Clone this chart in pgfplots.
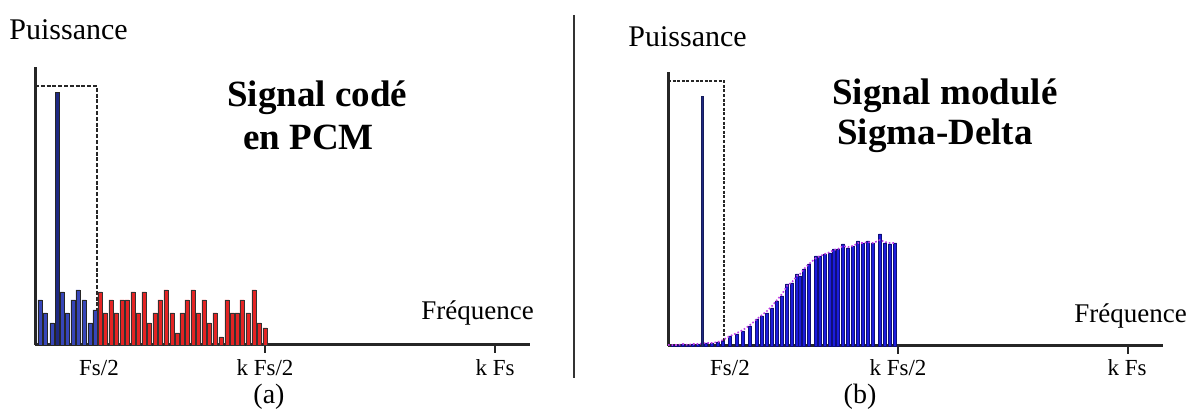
\documentclass[border=0pt]{standalone}
\usepackage{pgfplots}
\pgfplotsset{compat=1.18}
\usepackage{fontspec}
\setmainfont{Liberation Serif}
\definecolor{lblue}{RGB}{55,70,185}
\definecolor{lnavy}{RGB}{30,40,130}
\definecolor{lred}{RGB}{228,35,35}
\definecolor{rblue}{RGB}{28,28,220}
\definecolor{rmag}{RGB}{190,60,230}
\begin{document}
\begin{tikzpicture}
\useasboundingbox (0,0) rectangle (593.5pt,-205pt);
\pgfplotsset{panel/.style={scale only axis, width=247.5pt, xmin=0, xmax=495, ymin=0,
  axis x line=bottom, axis y line=left, axis line style={-, line width=1.5pt, black!85},
  ytick=\empty, xtick={230,460}, xticklabels={}, tick align=outside,
  major tick length=4pt, tick style={line width=1.2pt, black!85}, clip=false}}
% ---------------- panel (a)
\begin{axis}[panel, at={(17.5pt,-172.5pt)}, anchor=south west, height=139pt, ymax=278]
\addplot[black!85, line width=0.9pt, dash pattern=on 2pt off 0.9pt] coordinates {(0,259) (62,259) (62,0)};
\addplot[ybar, bar width=2.05pt, bar shift=0pt, fill=lblue, draw=black!85, line width=0.45pt] coordinates {
(5,45) (10,32) (17,22) (27,53) (32,32) (38,45) (43,55) (49,45) (55,22) (60,35)};
\addplot[ybar, bar width=2.05pt, bar shift=0pt, fill=lred, draw=black!80, line width=0.45pt] coordinates {
(65,53) (70,32) (76,45) (81,32) (87,45) (92,45) (98,53) (103,32) (109,53) (114,22)
(120,32) (125,45) (131,55) (137,32) (142,12) (147,32) (152,45) (158,55) (163,32) (169,45)
(174,22) (180,32) (186,8) (192,45) (197,32) (202,32) (207,45) (213,32) (219,55) (224,22) (230,17)};
\addplot[ybar, bar width=2pt, bar shift=0pt, fill=lnavy, draw=black!85, line width=0.45pt] coordinates {(22,253)};
\end{axis}
% ---------------- panel (b)
\begin{axis}[panel, at={(334pt,-173pt)}, anchor=south west, height=137pt, ymax=274]
\addplot[black!85, line width=0.9pt, dash pattern=on 1.5pt off 0.8pt] coordinates {(0,265) (56,265) (56,0)};
\addplot[ybar, bar width=1.5pt, bar shift=0pt, fill=rblue, draw=rblue!55!black, line width=0.35pt] coordinates {
(5,1) (10,1) (15,2) (20,1) (25,2) (30,2) (38,3) (44,3) (50,4)
(55,5) (62,10) (69,12) (75,15) (82,20) (89,27) (94,30) (99,33) (104,38) (109,45) (114,50)
(119,62) (124,63) (129,72) (132,70) (136,77) (141,82) (148,90) (152,90) (157,92) (162,93)
(166,97) (170,97) (175,102) (180,98) (185,100) (190,105) (195,103) (200,105) (205,103)
(212,112) (217,103) (222,102) (227,103)};
\addplot[rmag, line width=0.8pt, densely dotted] coordinates {
(0,1) (5,1) (10,1) (15,2) (20,1) (25,2) (30,2) (38,3) (44,3) (50,4)
(55,6) (62,10) (69,13) (75,16) (82,21) (89,27) (94,31) (99,35) (104,40) (109,46) (114,52)
(119,60) (124,64) (129,70) (132,72) (136,77) (141,82) (148,88) (152,90) (157,92) (162,94)
(166,96) (170,97) (175,100) (180,99) (185,100) (190,103) (195,103) (200,104) (205,103)
(212,106) (217,104) (222,103) (227,103)};
\addplot[ybar, bar width=1pt, bar shift=0pt, fill=lnavy, draw=lnavy!70!black, line width=0.3pt] coordinates {(34,250)};
\end{axis}
% ---------------- separator
\draw[line width=1.3pt, black!80] (287pt,-7.5pt) -- (287pt,-189pt);
% ---------------- texts
\node[anchor=base west, inner sep=0pt, font=\fontsize{15pt}{18pt}\selectfont] at (4.5pt,-20pt) {Puissance};
\node[anchor=base west, inner sep=0pt, font=\fontsize{15pt}{18pt}\selectfont] at (314pt,-23.5pt) {Puissance};
\node[anchor=base west, inner sep=0pt, font=\fontsize{18.5pt}{22pt}\selectfont\bfseries] at (113.5pt,-53.5pt) {Signal codé};
\node[anchor=base west, inner sep=0pt, font=\fontsize{18.5pt}{22pt}\selectfont\bfseries] at (121.5pt,-75pt) {en PCM};
\node[anchor=base west, inner sep=0pt, font=\fontsize{18.5pt}{22pt}\selectfont\bfseries] at (416pt,-52.5pt) {Signal modulé};
\node[anchor=base west, inner sep=0pt, font=\fontsize{18.5pt}{22pt}\selectfont\bfseries] at (418.5pt,-72.5pt) {Sigma-Delta};
\node[anchor=base west, inner sep=0pt, font=\fontsize{13.5pt}{16pt}\selectfont] at (210.5pt,-160pt) {Fréquence};
\node[anchor=base west, inner sep=0pt, font=\fontsize{13.5pt}{16pt}\selectfont] at (537pt,-161.5pt) {Fréquence};
\foreach \x/\t in {49.5/Fs\slash 2, 132.5/k Fs\slash 2, 247.5/k Fs, 365/Fs\slash 2, 449/k Fs\slash 2, 563.5/k Fs}
  \node[anchor=center, inner sep=0pt, font=\fontsize{11.5pt}{13pt}\selectfont] at (\x pt,-184pt) {\t};
\node[anchor=center, inner sep=0pt, font=\fontsize{14pt}{17pt}\selectfont] at (134.5pt,-198.5pt) {(a)};
\node[anchor=center, inner sep=0pt, font=\fontsize{14pt}{17pt}\selectfont] at (430pt,-198.5pt) {(b)};
\end{tikzpicture}
\end{document}
